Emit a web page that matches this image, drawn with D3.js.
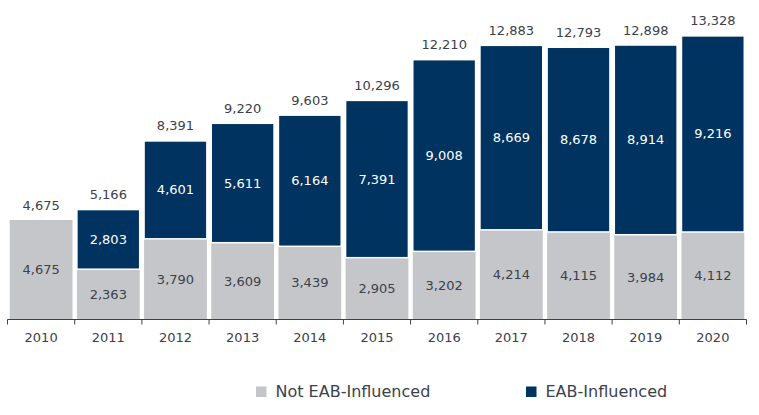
<!DOCTYPE html>
<html><head><meta charset="utf-8">
<script src="https://cdn.jsdelivr.net/npm/d3@7/dist/d3.min.js"></script>
<style>body{margin:0;background:#fff}svg{display:block}text{font-family:Verdana,"DejaVu Sans",sans-serif}</style>
</head><body><svg id="c" width="759" height="415"></svg>
<script>
const years = ["2010","2011","2012","2013","2014","2015","2016","2017","2018","2019","2020"];
const notEAB = [4675,2363,3790,3609,3439,2905,3202,4214,4115,3984,4112];
const eab = [0,2803,4601,5611,6164,7391,9008,8669,8678,8914,9216];
const seriesNames = ["Not EAB-Influenced","EAB-Influenced"];
const colors = ["#c4c6c9","#00335f"];

const svg = d3.select("#c");
const x = d3.scaleBand().domain(years).range([7.5,746.5]).paddingInner(0.065).paddingOuter(0.033);
const y = d3.scaleLinear().domain([0,15000]).range([319.5,0.3]);
const fmt = d3.format(",");
const txt = "#3b414c";

const rows = years.map((yr,i)=>({year:yr, a:notEAB[i], b:eab[i]}));
const stack = d3.stack().keys(["a","b"])(rows);

stack.forEach((layer,li)=>{
  svg.append("g").selectAll("rect").data(layer).join("rect")
    .attr("x",d=>x(d.data.year)).attr("width",x.bandwidth())
    .attr("y",d=>y(d[1])).attr("height",d=>Math.max(0,y(d[0])-y(d[1])))
    .attr("fill",colors[li]).attr("stroke","#fff").attr("stroke-width",li===1?1.5:0);
  svg.append("g").selectAll("text").data(layer.filter(d=>d[1]>d[0])).join("text")
    .attr("x",d=>x(d.data.year)+x.bandwidth()/2)
    .attr("y",d=>(y(d[0])+y(d[1]))/2)
    .attr("dy","0.35em").attr("text-anchor","middle").attr("font-size",13)
    .attr("fill",li===1?"#fff":txt)
    .text(d=>fmt(d[1]-d[0]));
});

svg.append("g").selectAll("text").data(rows).join("text")
  .attr("x",d=>x(d.year)+x.bandwidth()/2)
  .attr("y",d=>y(d.a+d.b)-10.5)
  .attr("text-anchor","middle").attr("font-size",13).attr("fill",txt)
  .text(d=>fmt(d.a+d.b));

// axis
const ax = svg.append("g").attr("transform","translate(0,319.5)");
ax.append("line").attr("x1",7.5).attr("x2",746.5).attr("stroke",txt).attr("stroke-width",1);
const edges = years.map(yr=>x(yr)-x.step()*x.paddingInner()/2).concat([746.5]);
edges[0]=7.5;
ax.selectAll("line.t").data(edges).join("line").attr("class","t")
  .attr("x1",d=>d).attr("x2",d=>d).attr("y1",0).attr("y2",5).attr("stroke",txt);
ax.selectAll("text").data(years).join("text")
  .attr("x",d=>x(d)+x.bandwidth()/2).attr("y",22)
  .attr("text-anchor","middle").attr("font-size",13).attr("fill",txt).text(d=>d);

// legend
const lg = [{n:seriesNames[0],c:colors[0],x:256},{n:seriesNames[1],c:colors[1],x:526}];
const L = svg.append("g");
lg.forEach(d=>{
  L.append("rect").attr("x",d.x).attr("y",386.5).attr("width",10.5).attr("height",10.5).attr("fill",d.c);
  L.append("text").attr("x",d.x+19.5).attr("y",397).attr("font-size",16).attr("fill",txt).text(d.n);
});
</script></body></html>
